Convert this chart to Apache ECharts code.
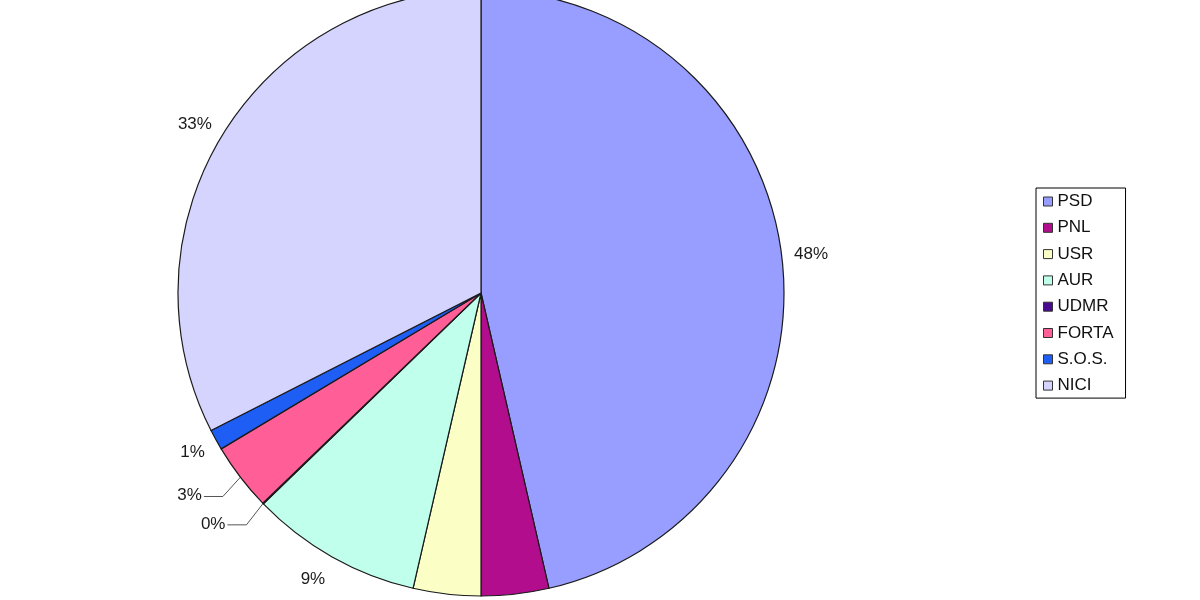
<!DOCTYPE html>
<html>
<head>
<meta charset="utf-8">
<script src="https://cdn.jsdelivr.net/npm/echarts@6/dist/echarts.min.js"></script>
<style>
  html, body { margin: 0; padding: 0; background: #fff; }
  #chart { width: 1200px; height: 600px; }
</style>
</head>
<body>
<div id="chart"></div>
<script>
// Parties (legend order / slice order, clockwise from 12 o'clock)
const categories = ['PSD', 'PNL', 'USR', 'AUR', 'UDMR', 'FORTA', 'S.O.S.', 'NICI'];
// Slice shares (percent)
const values = [46.4, 3.6, 3.6, 9.15, 0.05, 3.6, 1.1, 32.5];
// Percentage labels as printed on the chart
const percentLabels = ['48%', '4%', '4%', '9%', '0%', '3%', '1%', '33%'];
const colors = ['#989EFF', '#B10D8D', '#FBFFC6', '#C0FFEC', '#4A0A90', '#FF5E97', '#1E5EF5', '#D4D4FF'];

// label nudges (style only): [dx, dy] relative to the default outside position
const labelNudge = [[-5, -3], [0, 30], [0, 30], [4, 12], [-24, 12], [-24, 11], [4.5, 7], [4.5, -4.5]];
const showLeader = [false, false, false, false, true, true, false, false];
const leaderFlat = 19;   // horizontal part of the leader lines
const leaderGap = 2;     // gap between text and leader line

const chart = echarts.init(document.getElementById('chart'), null, { renderer: 'canvas' });

const data = categories.map((name, i) => ({
  name: name,
  value: values[i],
  itemStyle: { color: colors[i] },
  labelLine: { show: showLeader[i] }
}));

chart.setOption({
  animation: false,
  backgroundColor: '#ffffff',
  textStyle: { fontFamily: 'Liberation Sans, Arial, sans-serif' },
  legend: {
    orient: 'vertical',
    left: 1036,
    top: 188,
    padding: [5, 12, 4, 7],
    itemWidth: 9,
    itemHeight: 9,
    itemGap: 9.3,
    icon: 'rect',
    borderColor: '#000',
    borderWidth: 1,
    data: categories,
    itemStyle: { borderColor: '#333', borderWidth: 1 },
    textStyle: {
      fontFamily: 'Liberation Sans, Arial, sans-serif',
      fontSize: 17,
      lineHeight: 16,
      color: '#111'
    }
  },
  series: [{
    type: 'pie',
    center: [481, 293],
    radius: 303,
    startAngle: 90,
    clockwise: true,
    avoidLabelOverlap: false,
    itemStyle: { borderColor: '#1a1a1a', borderWidth: 1.2 },
    emphasis: { disabled: true },
    label: {
      show: true,
      position: 'outside',
      fontFamily: 'Liberation Sans, Arial, sans-serif',
      fontSize: 17,
      color: '#1a1a1a',
      distanceToLabelLine: 5,
      formatter: function (p) { return percentLabels[p.dataIndex]; }
    },
    labelLine: {
      length: 12,
      length2: 0,
      lineStyle: { color: '#555', width: 1 }
    },
    labelLayout: function (p) {
      const i = p.dataIndex;
      const n = labelNudge[i];
      const r = p.labelRect;
      const cx = r.x + r.width / 2 + n[0];
      const cy = r.y + r.height / 2 + n[1];
      const out = { x: cx, y: cy, align: 'center', verticalAlign: 'middle' };
      if (showLeader[i] && p.labelLinePoints) {
        const edge = p.labelLinePoints[0];
        const right = cx + r.width / 2 + leaderGap;
        out.labelLinePoints = [edge, [right + leaderFlat, cy + 1], [right, cy + 1]];
      }
      return out;
    },
    data: data
  }]
});
</script>
</body>
</html>
